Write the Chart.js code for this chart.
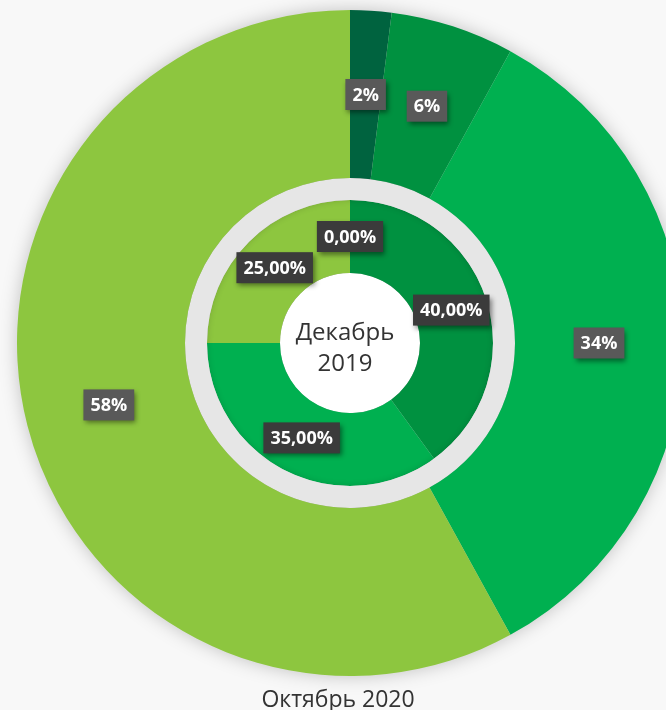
<!DOCTYPE html>
<html lang="ru">
<head>
<meta charset="utf-8">
<script src="https://cdn.jsdelivr.net/npm/chart.js@4/dist/chart.umd.min.js"></script>
<style>
  html, body { margin: 0; padding: 0; background: #f8f8f8; overflow: hidden; }
  body { width: 666px; height: 710px; position: relative; }
  #grafica { position: absolute; left: 0; top: 0; filter: drop-shadow(0 0 9px rgba(0,0,0,0.22)); }
  #pie {
    position: absolute; left: 238px; top: 682px; width: 200px; text-align: center;
    font-family: 'Open Sans', sans-serif; font-size: 23px; color: #333; white-space: nowrap;
  }
</style>
</head>
<body>
<canvas id="grafica" width="700" height="686"></canvas>
<div id="pie">Октябрь 2020</div>
<script>
// Октябрь 2020 (внешнее кольцо)
const categoriasExt = ['Сегмент 1', 'Сегмент 2', 'Сегмент 3', 'Сегмент 4'];
const valoresExt = [2, 6, 34, 58];
const coloresExt = ['#00633f', '#009140', '#00b050', '#8dc63f'];

// Декабрь 2019 (внутреннее кольцо)
const categoriasInt = ['Сегмент 1', 'Сегмент 2', 'Сегмент 3', 'Сегмент 4'];
const valoresInt = [0, 40, 35, 25];
const coloresInt = ['#00633f', '#009140', '#00b050', '#8dc63f'];

const textoCentro = ['Декабрь', '2019'];

// sombra suave para el círculo blanco central
const pluginSombra = {
  id: 'sombra',
  beforeDatasetDraw(chart, args) {
    if (args.index === 3 || args.index === 1) {
      chart.ctx.save();
      chart.ctx.shadowColor = args.index === 3 ? 'rgba(0,0,0,0.28)' : 'rgba(0,0,0,0.15)';
      chart.ctx.shadowBlur = args.index === 3 ? 10 : 6;
    }
  },
  afterDatasetDraw(chart, args) {
    if (args.index === 3 || args.index === 1) chart.ctx.restore();
  }
};

// etiquetas en cajas grises sobre cada sector
const pluginEtiquetas = {
  id: 'etiquetas',
  afterDatasetsDraw(chart) {
    const ctx = chart.ctx;
    const grupos = [
      { idx: 0, texto: v => v + '%', fondo: '#595959' },
      { idx: 2, texto: v => v.toFixed(2).replace('.', ',') + '%', fondo: '#3b3b3b' }
    ];
    ctx.save();
    ctx.font = 'bold 18px "Open Sans"';
    ctx.textAlign = 'center';
    ctx.textBaseline = 'middle';
    grupos.forEach(g => {
      const meta = chart.getDatasetMeta(g.idx);
      const datos = chart.data.datasets[g.idx].data;
      meta.data.forEach((arco, i) => {
        const p = arco.tooltipPosition();
        const t = g.texto(datos[i]);
        const w = ctx.measureText(t).width + 14;
        const h = 31;
        ctx.shadowColor = 'rgba(0,0,0,0.45)';
        ctx.shadowBlur = 5;
        ctx.shadowOffsetX = 2;
        ctx.shadowOffsetY = 3;
        ctx.fillStyle = g.fondo;
        ctx.fillRect(p.x - w / 2, p.y - h / 2, w, h);
        ctx.shadowColor = 'transparent';
        ctx.fillStyle = '#ffffff';
        ctx.fillText(t, p.x, p.y + 1);
      });
    });

    // texto central
    const centro = chart.getDatasetMeta(3).data[0];
    ctx.font = '24px "Open Sans"';
    ctx.fillStyle = '#333333';
    ctx.fillText(textoCentro[0], centro.x - 5, centro.y - 10);
    ctx.fillText(textoCentro[1], centro.x - 5, centro.y + 21);
    ctx.restore();
  }
};

new Chart(document.getElementById('grafica'), {
  type: 'doughnut',
  data: {
    labels: categoriasExt,
    datasets: [
      { data: valoresExt, backgroundColor: coloresExt, borderWidth: 0, weight: 168 },
      { data: [1], backgroundColor: ['#e6e6e6'], borderWidth: 0, weight: 22 },
      { data: valoresInt, backgroundColor: coloresInt, borderWidth: 0, weight: 73 },
      { data: [1], backgroundColor: ['#ffffff'], borderWidth: 0, weight: 70 }
    ]
  },
  options: {
    responsive: false,
    animation: false,
    events: [],
    cutout: 0,
    layout: { padding: 10 },
    plugins: {
      legend: { display: false },
      tooltip: { enabled: false }
    }
  },
  plugins: [pluginSombra, pluginEtiquetas]
});
</script>
</body>
</html>
